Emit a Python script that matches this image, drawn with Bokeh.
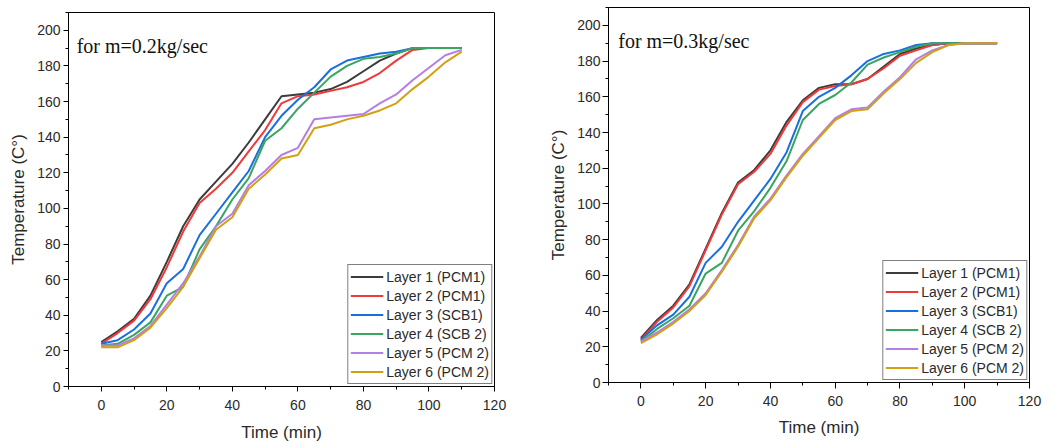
from bokeh.plotting import figure
from bokeh.layouts import row
from bokeh.models import Range1d, SingleIntervalTicker, Label, Legend, LegendItem
from bokeh.embed import file_html
from bokeh.resources import INLINE

time_min = [0, 5, 10, 15, 20, 25, 30, 35, 40, 45, 50, 55, 60, 65, 70, 75, 80, 85, 90, 95, 100, 105, 110]

layer_names = ["Layer 1 (PCM1)", "Layer 2 (PCM1)", "Layer 3 (SCB1)",
               "Layer 4 (SCB 2)", "Layer 5 (PCM 2)", "Layer 6 (PCM 2)"]
layer_colors = ["#3c3c3c", "#f0393a", "#1a6fe0", "#38a560", "#b57ee6", "#d2a012"]

# m = 0.2 kg/sec
m02_layer1 = [25, 31, 38, 51, 70, 90, 105, 115, 125, 137, 150, 163, 164, 165, 167, 171, 177, 183, 187, 190, 190, 190, 190]
m02_layer2 = [24, 30, 37, 49, 67, 87, 103, 111, 120, 132, 144, 159, 163, 164, 166, 168, 171, 176, 183, 189, 190, 190, 190]
m02_layer3 = [24, 26, 32, 41, 58, 66, 85, 97, 109, 121, 140, 152, 161, 168, 178, 183, 185, 187, 188, 190, 190, 190, 190]
m02_layer4 = [23, 24, 29, 36, 51, 56, 77, 90, 105, 117, 138, 145, 156, 165, 174, 180, 184, 185, 187, 190, 190, 190, 190]
m02_layer5 = [23, 23, 27, 34, 46, 58, 73, 90, 97, 113, 121, 130, 134, 150, 151, 152, 153, 159, 164, 172, 179, 186, 189]
m02_layer6 = [22, 22, 26, 33, 44, 56, 72, 88, 95, 111, 119, 128, 130, 145, 147, 150, 152, 155, 159, 167, 174, 182, 188]

# m = 0.3 kg/sec
m03_layer1 = [25, 35, 43, 55, 75, 95, 112, 119, 130, 146, 158, 165, 167, 167, 170, 177, 184, 187, 189, 190, 190, 190, 190]
m03_layer2 = [24, 34, 42, 54, 74, 94, 111, 118, 128, 144, 157, 164, 166, 167, 170, 176, 183, 186, 189, 190, 190, 190, 190]
m03_layer3 = [24, 32, 38, 48, 67, 76, 90, 102, 114, 129, 152, 160, 165, 172, 180, 184, 186, 189, 190, 190, 190, 190, 190]
m03_layer4 = [23, 30, 36, 43, 61, 67, 85, 96, 109, 124, 147, 156, 161, 168, 178, 182, 185, 188, 190, 190, 190, 190, 190]
m03_layer5 = [23, 28, 34, 41, 50, 63, 77, 93, 103, 116, 128, 138, 148, 153, 154, 163, 171, 181, 186, 189, 190, 190, 190]
m03_layer6 = [22, 27, 33, 40, 49, 62, 76, 92, 102, 115, 127, 137, 147, 152, 153, 162, 170, 179, 185, 189, 190, 190, 190]

x_ticks_interval = 20
y_ticks_interval = 20


def make_plot(series, note, note_x, width, height, mb_left, mb_right, mb_top, mb_bottom,
              tick_out, y_standoff, x_standoff, x_label_standoff):
    p = figure(width=width, height=height, output_backend="svg", toolbar_location=None,
               x_range=Range1d(-10, 120), y_range=Range1d(0, 210),
               min_border_left=mb_left, min_border_right=mb_right,
               min_border_top=mb_top, min_border_bottom=mb_bottom)
    p.background_fill_color = "white"
    p.border_fill_color = "white"
    p.outline_line_color = "black"
    p.outline_line_width = 1
    p.xgrid.visible = False
    p.ygrid.visible = False

    p.xaxis.ticker = SingleIntervalTicker(interval=x_ticks_interval, num_minor_ticks=2)
    p.yaxis.ticker = SingleIntervalTicker(interval=y_ticks_interval, num_minor_ticks=2)
    for ax in (p.xaxis[0], p.yaxis[0]):
        ax.axis_line_color = "black"
        ax.major_tick_line_color = "black"
        ax.minor_tick_line_color = "black"
        ax.major_tick_in = 0
        ax.minor_tick_in = 0
        ax.major_tick_out = tick_out
        ax.minor_tick_out = 3
        ax.major_label_text_font = "Liberation Sans"
        ax.major_label_text_font_size = "14px"
        ax.major_label_text_color = "#2a2a2a"
        ax.axis_label_text_font = "Liberation Sans"
        ax.axis_label_text_font_size = "17px"
        ax.axis_label_text_font_style = "normal"
        ax.axis_label_text_color = "#2a2a2a"
    p.xaxis.axis_label = "Time (min)"
    p.yaxis.axis_label = "Temperature (C°)"
    p.yaxis.major_label_standoff = y_standoff
    p.yaxis.axis_label_standoff = 6
    p.xaxis.major_label_standoff = x_standoff
    p.xaxis.axis_label_standoff = x_label_standoff

    items = []
    for name, color, vals in zip(layer_names, layer_colors, series):
        r = p.line(time_min, vals, line_color=color, line_width=2)
        items.append(LegendItem(label=name, renderers=[r]))

    legend = Legend(items=items, location="bottom_right",
                    label_text_font="Liberation Sans", label_text_font_size="14px",
                    label_text_color="#2a2a2a",
                    glyph_width=33, glyph_height=19, label_height=19,
                    label_standoff=3, spacing=0, padding=2, margin=2,
                    border_line_color="black", border_line_width=1,
                    background_fill_color="white", background_fill_alpha=1)
    p.add_layout(legend, "center")

    p.add_layout(Label(x=note_x, y=191, text=note, text_font="Liberation Serif",
                       text_font_size="20px", text_color="#111111",
                       text_baseline="alphabetic"))
    return p


left = make_plot([m02_layer1, m02_layer2, m02_layer3, m02_layer4, m02_layer5, m02_layer6],
                 "for m=0.2kg/sec", -7.5, 520, 439, 68, 26, 7, 58, 5, 3, 8, 10)
left.margin = (5, 0, 0, 0)
right = make_plot([m03_layer1, m03_layer2, m03_layer3, m03_layer4, m03_layer5, m03_layer6],
                  "for m=0.3kg/sec", -7.0, 532, 440, 88, 23, 7, 58, 6, 2, 7, 9)

layout = row(left, right)
open("out.html", "w").write(file_html(layout, INLINE))
